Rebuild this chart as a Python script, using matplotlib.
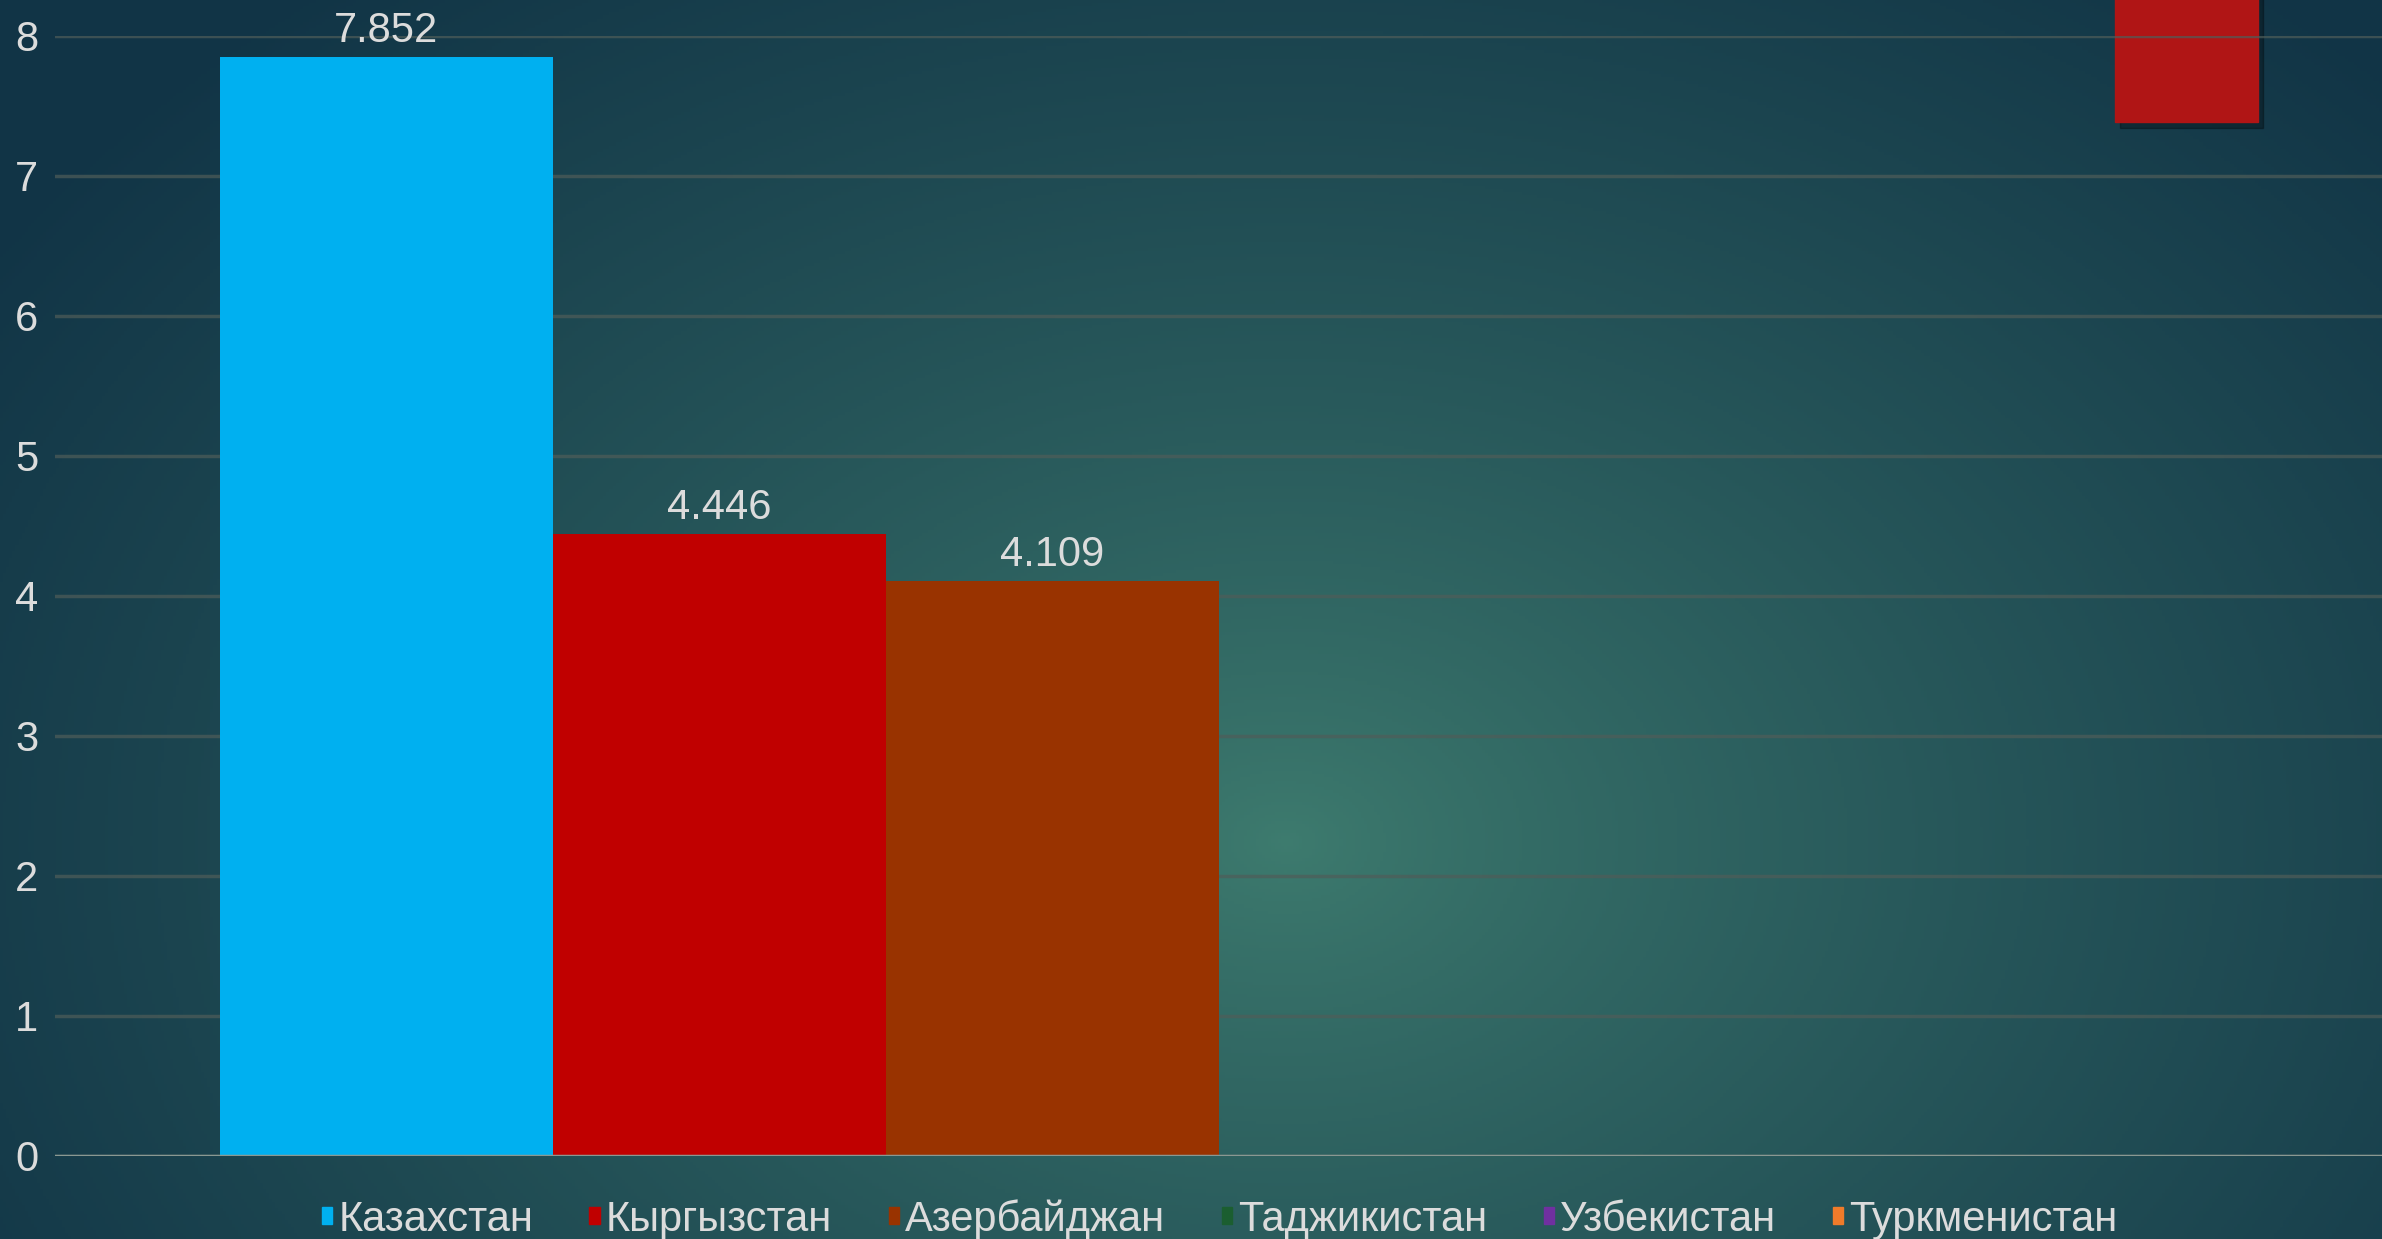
import numpy as np
import matplotlib.pyplot as plt
from matplotlib.patches import Rectangle, Patch

countries = ['Казахстан', 'Кыргызстан', 'Азербайджан', 'Таджикистан', 'Узбекистан', 'Туркменистан']
values = [7.852, 4.446, 4.109, 0, 0, 0]
colors = ['#00B0F0', '#C00000', '#993300', '#1B5E30', '#7030A0', '#F07B2A']
yticks = [0, 1, 2, 3, 4, 5, 6, 7, 8]

plt.rcParams['font.family'] = ['Liberation Sans', 'DejaVu Sans']
txt_col = '#dcdcdc'
fs = 30

fig = plt.figure(figsize=(23.82, 12.39), dpi=100)

# radial teal background
bg = fig.add_axes([0, 0, 1, 1], zorder=-5)
h, w = 400, 770
yy, xx = np.mgrid[0:1:h * 1j, 0:1:w * 1j]
t = np.sqrt(((xx - 0.54) / 0.65) ** 2 + ((yy - 0.68) / 0.9) ** 2)
t = np.clip(t, 0, 1) ** 0.8
c0 = np.array([62, 124, 111]) / 255
c1 = np.array([17, 52, 70]) / 255
img = c0 * (1 - t[..., None]) + c1 * t[..., None]
bg.imshow(img, aspect='auto', extent=[0, 1, 0, 1], origin='upper')
bg.axis('off')

# red decoration in the corner, with a soft shadow
fig.patches.append(Rectangle((0.890, 0.897), 0.060, 0.11, transform=fig.transFigure,
                             color='black', alpha=0.3, zorder=-2))
fig.patches.append(Rectangle((0.888, 0.9015), 0.060, 0.1, transform=fig.transFigure,
                             color='#B01515', zorder=-1))

ax = fig.add_axes([0.0231, 0.067, 0.9769, 0.904])
ax.patch.set_visible(False)

bw = 0.1431
for i, (name, v, c) in enumerate(zip(countries, values, colors)):
    x = (i - 2.5) * bw
    ax.bar(x, v, width=bw, color=c, label=name, zorder=3)
    if v > 0:
        ax.annotate(f'{v:.3f}', (x, v), xytext=(0, 4), textcoords='offset points',
                    ha='center', va='bottom', fontsize=fs, color=txt_col)

ax.set_xlim(-0.5, 0.5)
ax.set_ylim(0, 8)
ax.set_yticks(yticks)
ax.set_xticks([])
ax.tick_params(axis='y', length=0, pad=12, labelsize=fs, labelcolor=txt_col)
for s in ax.spines.values():
    s.set_visible(False)
ax.yaxis.grid(True, color='#4f5d59', alpha=0.7, lw=2.5, zorder=1)
ax.axhline(0, color='#8a9892', lw=2.5, zorder=4)

handles = [Patch(color=c) for c in colors]
fig.legend(handles, countries, loc='center', bbox_to_anchor=(0.512, 0.016), ncol=6,
           frameon=False, fontsize=fs, labelcolor=txt_col, handlelength=0.25, handleheight=0.25,
           handletextpad=0.15, columnspacing=1.35, borderpad=0)

fig.savefig('out.png', dpi=100)
